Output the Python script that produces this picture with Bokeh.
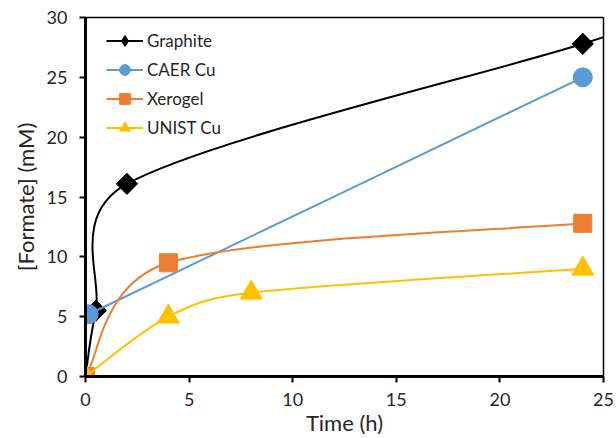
import math
from bokeh.plotting import figure
from bokeh.models import (ColumnDataSource, Range1d, SingleIntervalTicker, Legend, LegendItem)
from bokeh.embed import file_html
from bokeh.resources import INLINE

# ---- data ----
graphite_t = [0, 0.5, 2, 24, 30]
graphite_c = [0, 5.5, 16.1, 27.8, 31.4]
caer_t = [0.15, 24]
caer_c = [5.2, 25.0]
xerogel_t = [0, 4, 24]
xerogel_c = [0, 9.5, 12.8]
unist_t = [0, 4, 8, 24]
unist_c = [0, 5.0, 7.0, 9.0]

X_MAX, Y_MAX = 25, 30
FW, FH = 518, 360
SX, SY = FW / X_MAX, FH / Y_MAX


def smooth_segments(xs, ys, limit=0.5):
    """Excel-like smoothing: cubic Bezier control points from neighbours (screen space)."""
    px = [x * SX for x in xs]
    py = [y * SY for y in ys]
    n = len(px)
    seg = dict(x0=[], y0=[], x1=[], y1=[], cx0=[], cy0=[], cx1=[], cy1=[])
    for i in range(n - 1):
        a = max(i - 1, 0)
        b = min(i + 2, n - 1)
        sl = math.hypot(px[i + 1] - px[i], py[i + 1] - py[i])
        tx, ty = (px[i + 1] - px[a]) / 6, (py[i + 1] - py[a]) / 6
        d = math.hypot(tx, ty)
        if d > limit * sl and d > 0:
            tx, ty = tx * limit * sl / d, ty * limit * sl / d
        c0x, c0y = px[i] + tx, py[i] + ty
        tx, ty = (px[b] - px[i]) / 6, (py[b] - py[i]) / 6
        d = math.hypot(tx, ty)
        if d > limit * sl and d > 0:
            tx, ty = tx * limit * sl / d, ty * limit * sl / d
        c1x, c1y = px[i + 1] - tx, py[i + 1] - ty
        seg["x0"].append(xs[i]); seg["y0"].append(ys[i])
        seg["x1"].append(xs[i + 1]); seg["y1"].append(ys[i + 1])
        seg["cx0"].append(c0x / SX); seg["cy0"].append(c0y / SY)
        seg["cx1"].append(c1x / SX); seg["cy1"].append(c1y / SY)
    return ColumnDataSource(seg)


p = figure(width=616, height=438, x_range=Range1d(0, X_MAX), y_range=Range1d(0, Y_MAX),
           output_backend="svg", toolbar_location=None,
           min_border_left=85, min_border_right=13, min_border_top=17, min_border_bottom=61)
p.background_fill_color = "white"
p.border_fill_color = "white"
p.outline_line_color = "black"
p.outline_line_width = 1.5
p.xgrid.visible = False
p.ygrid.visible = False

FONT = "Lato"
TXT = "#262626"
for ax in (p.xaxis[0], p.yaxis[0]):
    ax.ticker = SingleIntervalTicker(interval=5, num_minor_ticks=0)
    ax.minor_tick_line_color = None
    ax.major_tick_in = 0
    ax.major_tick_out = 6
    ax.major_tick_line_width = 2
    ax.major_tick_line_color = "black"
    ax.axis_line_width = 3
    ax.axis_line_color = "black"
    ax.major_label_text_font = FONT
    ax.major_label_text_font_size = "18px"
    ax.major_label_text_color = TXT
    ax.axis_label_text_font = FONT
    ax.axis_label_text_font_size = "22px"
    ax.axis_label_text_font_style = "normal"
    ax.axis_label_text_color = TXT

p.xaxis.axis_label = "Time (h)"
p.xaxis.major_label_standoff = 10
p.xaxis.axis_label_standoff = 0
p.yaxis.axis_label = "[Formate] (mM)"
p.yaxis.major_label_standoff = 12
p.yaxis.axis_label_standoff = 5

series = [
    ("Graphite", graphite_t, graphite_c, "black", "square", 15, math.pi / 4),
    ("CAER Cu", caer_t, caer_c, "#5B9BD5", "circle", 19, 0),
    ("Xerogel", xerogel_t, xerogel_c, "#ED7D31", "square", 18, 0),
    ("UNIST Cu", unist_t, unist_c, "#FFC000", "triangle", 22, 0),
]

items = []
for name, xs, ys, col, mk, sz, ang in series:
    src = smooth_segments(xs, ys)
    br = p.bezier(x0="x0", y0="y0", x1="x1", y1="y1", cx0="cx0", cy0="cy0",
                  cx1="cx1", cy1="cy1", source=src, line_color=col, line_width=2)
    if ang:
        # diamond glyph (hidden below the rotated squares) used for the legend symbol
        lr = p.scatter(x=xs, y=ys, marker="diamond", size=14, fill_color=col, line_color=col)
        p.scatter(x=xs, y=ys, marker=mk, size=sz, angle=ang, fill_color=col, line_color=col)
    else:
        lr = p.scatter(x=xs, y=ys, marker=mk, size=sz, fill_color=col, line_color=col)
    items.append(LegendItem(label=name, renderers=[br, lr]))

legend = Legend(items=items, location=(21, 235), orientation="vertical",
                label_text_font=FONT, label_text_font_size="17px", label_text_color=TXT,
                glyph_width=37, glyph_height=27, label_height=27, spacing=2,
                label_standoff=4, padding=0, margin=0,
                border_line_color=None, background_fill_alpha=0)
p.add_layout(legend)

open("out.html", "w").write(file_html(p, INLINE))
